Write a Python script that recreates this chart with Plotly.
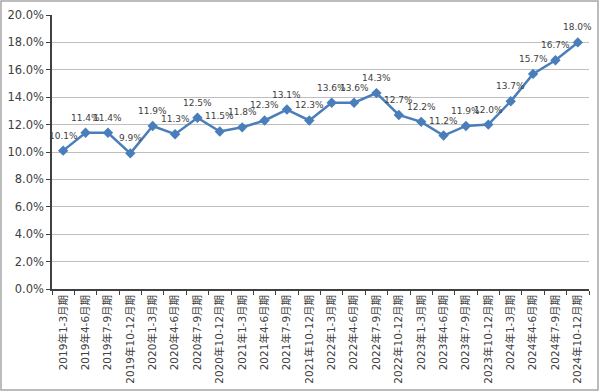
import plotly.graph_objects as go

categories = ["2019年1-3月期", "2019年4-6月期", "2019年7-9月期", "2019年10-12月期",
              "2020年1-3月期", "2020年4-6月期", "2020年7-9月期", "2020年10-12月期",
              "2021年1-3月期", "2021年4-6月期", "2021年7-9月期", "2021年10-12月期",
              "2022年1-3月期", "2022年4-6月期", "2022年7-9月期", "2022年10-12月期",
              "2023年1-3月期", "2023年4-6月期", "2023年7-9月期", "2023年10-12月期",
              "2024年1-3月期", "2024年4-6月期", "2024年7-9月期", "2024年10-12月期"]
values = [10.1, 11.4, 11.4, 9.9, 11.9, 11.3, 12.5, 11.5, 11.8, 12.3, 13.1, 12.3,
          13.6, 13.6, 14.3, 12.7, 12.2, 11.2, 11.9, 12.0, 13.7, 15.7, 16.7, 18.0]
labels = [f"{v:.1f}%" for v in values]

FONT = "DejaVu Sans, Verdana, Noto Sans CJK JP, sans-serif"
L, R, T, B = 52, 11, 15, 103
W, H = 600, 392
pw, ph = W - L - R, H - T - B

fig = go.Figure(go.Scatter(
    x=categories, y=values, mode="lines+markers",
    line=dict(color="#4a7ebb", width=2.5),
    marker=dict(symbol="diamond", size=8, color="#4a7ebb"),
    cliponaxis=False, hoverinfo="skip",
))

for c, v, t in zip(categories, values, labels):
    fig.add_annotation(x=c, y=v, text=t, showarrow=False, yshift=15,
                       font=dict(size=9, color="#404040", family=FONT))

fig.update_layout(
    width=W, height=H, margin=dict(l=L, r=R, t=T, b=B, autoexpand=False),
    paper_bgcolor="white", plot_bgcolor="white", showlegend=False,
    font=dict(family=FONT, color="#404040"),
    xaxis=dict(type="category", tickangle=-90, tickfont=dict(size=10.5, color="#404040"),
               showline=True, linecolor="#404040", linewidth=1.5, automargin=False,
               ticks="outside", ticklen=4, tickcolor="#404040", tickson="boundaries",
               showgrid=False, range=[-0.5, len(categories) - 0.5]),
    yaxis=dict(range=[0, 20], dtick=2, ticksuffix="%", tickformat=".1f",
               tickfont=dict(size=11.5, color="#404040"), automargin=False,
               showline=True, linecolor="#404040", linewidth=1.5,
               ticks="outside", ticklen=4, tickcolor="#404040",
               showgrid=True, gridcolor="#bfbfbf", gridwidth=1, zeroline=False),
    shapes=[dict(type="rect", xref="paper", yref="paper",
                 x0=-(L - 1) / pw, x1=1 + (R - 2) / pw,
                 y0=-(B - 2) / ph, y1=1 + (T - 1) / ph,
                 line=dict(color="#a6a6a6", width=1.5))],
)

fig.write_html("out.html", config={"displayModeBar": False},
               post_script="document.body.style.margin='0';")
